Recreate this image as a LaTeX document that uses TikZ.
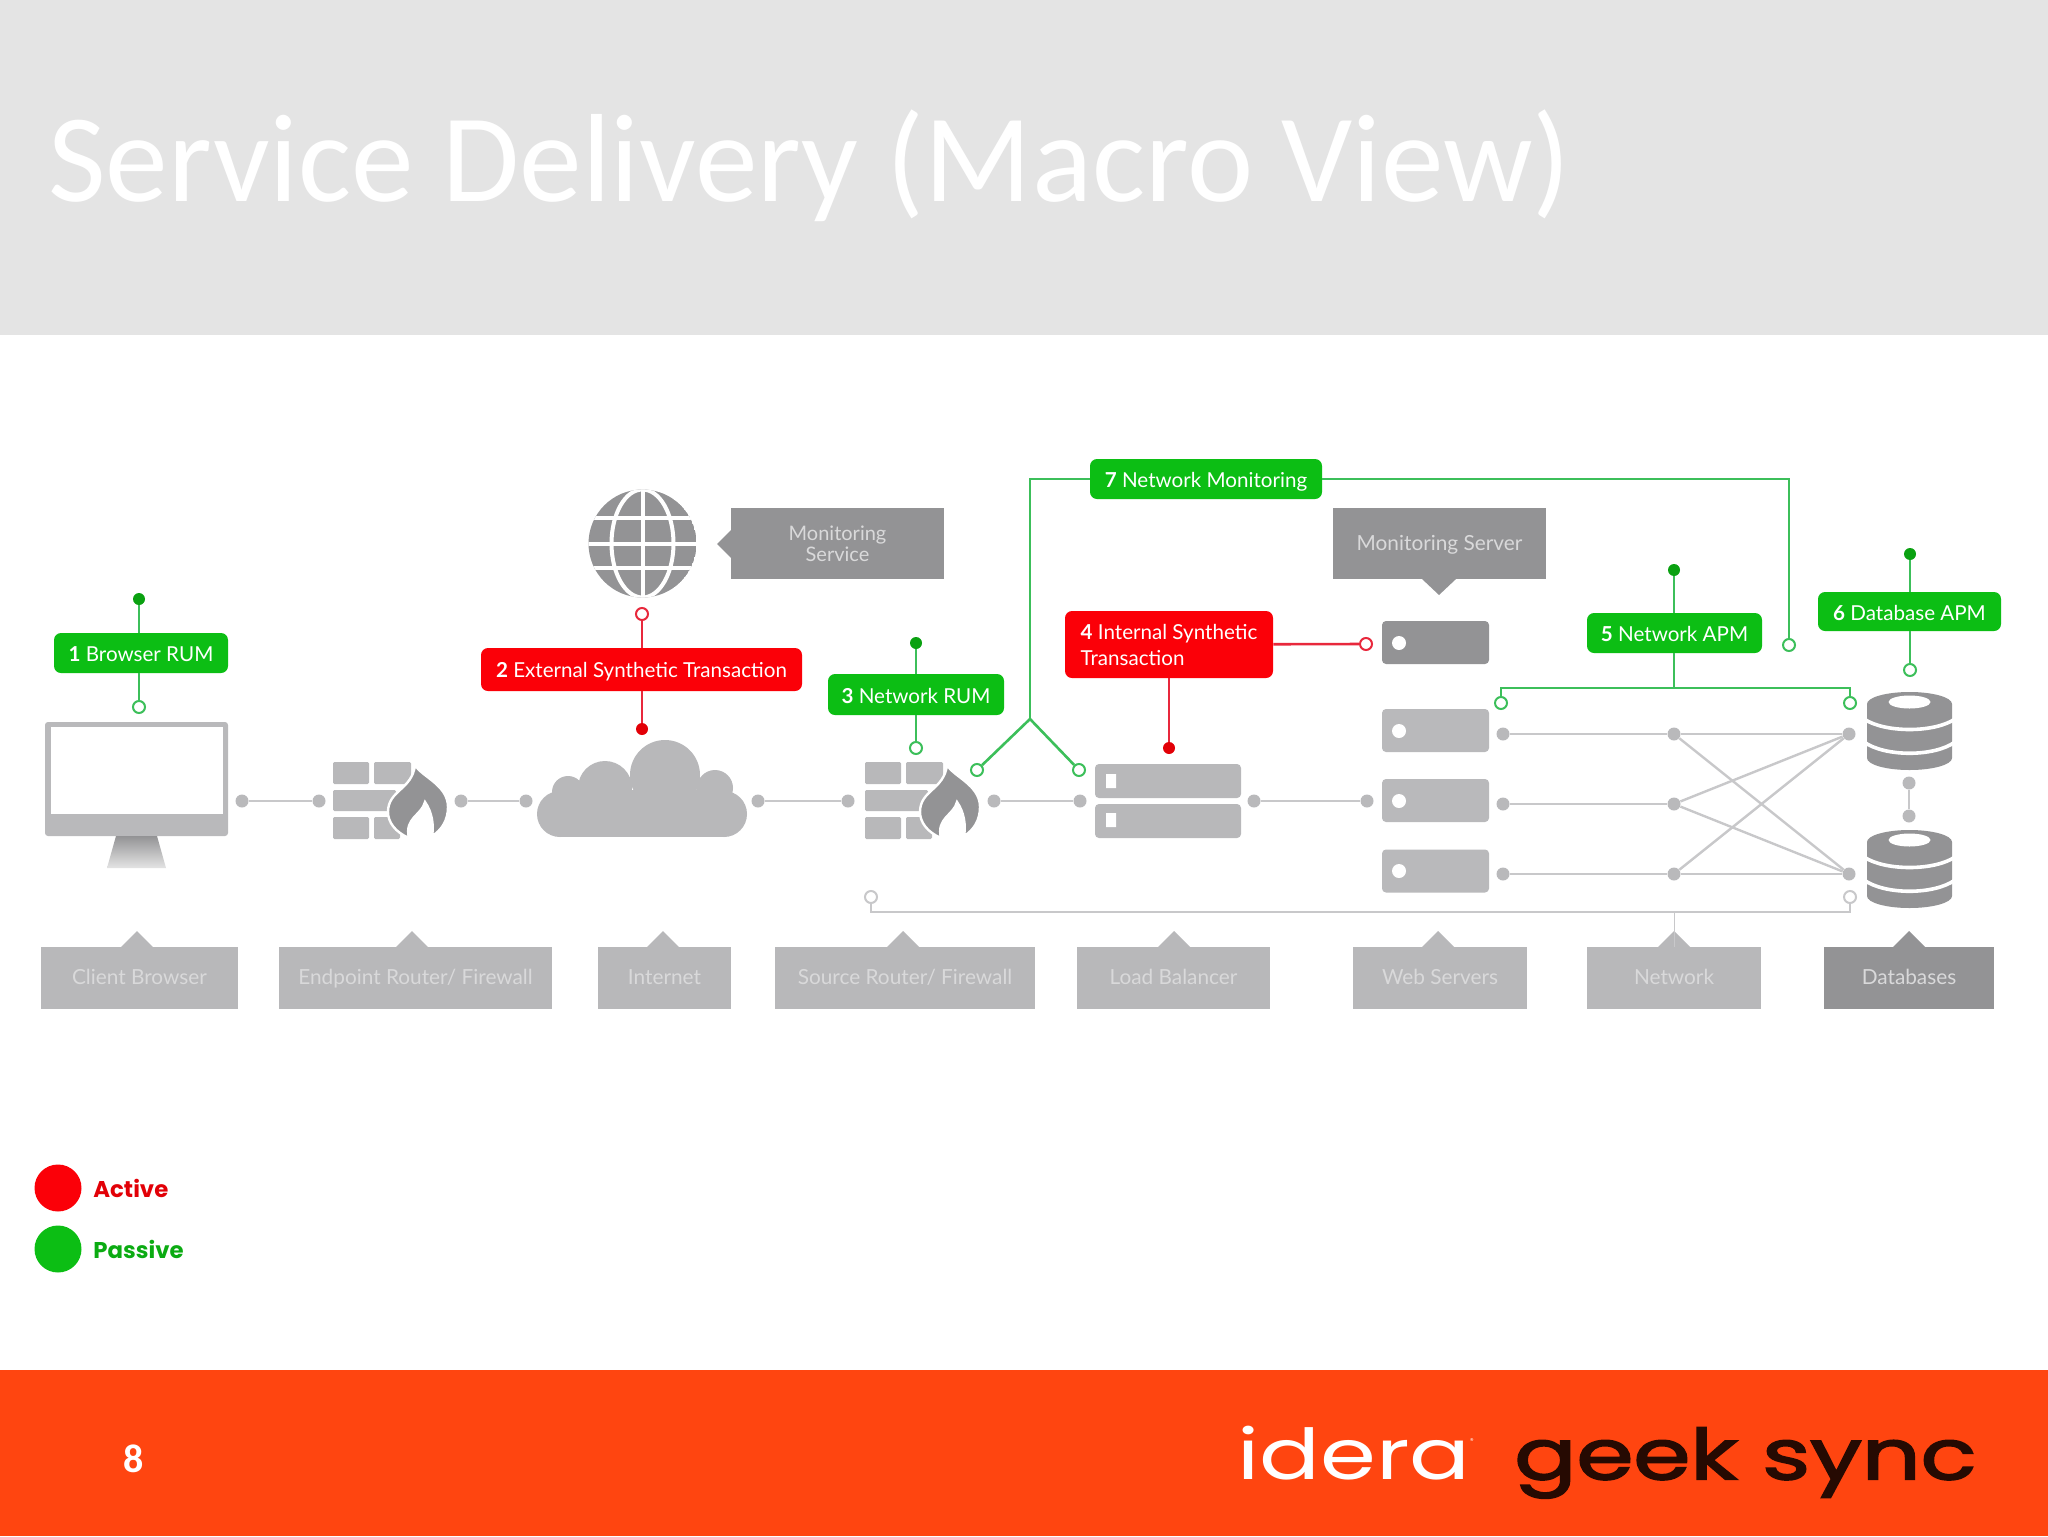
\documentclass[tikz,border=0pt]{standalone}
\usepackage{fontspec}
\usepackage{graphicx}
\setmainfont{Lato}
\newfontfamily\titlefont{Carlito}
\newfontfamily\logofont{Poppins}
\newfontfamily\geekfont[FakeBold=2.2]{Poppins}
\usetikzlibrary{calc}
\definecolor{hdr}{HTML}{E4E4E4}
\definecolor{ftr}{HTML}{FF4510}
\definecolor{gbub}{HTML}{0CBE14}
\definecolor{rbub}{HTML}{FB0008}
\definecolor{gline}{HTML}{3CBF5A}
\definecolor{rline}{HTML}{E8283C}
\definecolor{lgrey}{HTML}{B8B8BA}
\definecolor{dgrey}{HTML}{939395}
\definecolor{ltxt}{HTML}{D9D9DA}
\definecolor{cgrey}{HTML}{B9B9BB}
\definecolor{lnk}{HTML}{C8C8CA}
\tikzset{
  x=0.5pt,y=-0.5pt,
  bubble/.style={rounded corners=3.5pt,inner sep=0pt,text=white,font=\fontsize{10.3}{13}\selectfont,align=center},
  gbubble/.style={bubble,fill=gbub,text height=9.5pt,text depth=1pt},
  rbubble/.style={bubble,fill=rbub},
  fdot/.style={circle,inner sep=0pt,minimum size=6pt},
  gfill/.style={fdot,fill=gbub!85!black},
  rfill/.style={fdot,fill=rbub!90!black},
  gopen/.style={fdot,fill=white,draw=gline,line width=1pt},
  ropen/.style={fdot,fill=white,draw=rline,line width=1pt},
  wopen/.style={fdot,fill=white,draw=lnk,line width=1pt},
  gdot/.style={fdot,minimum size=6.5pt,fill=cgrey},
  gwire/.style={draw=gline,line width=1.3pt},
  rwire/.style={draw=rline,line width=1.3pt},
  lwire/.style={draw=lnk,line width=1.2pt},
  lblbox/.style={fill=lgrey,inner sep=0pt,minimum height=31pt,text=ltxt,text height=8.8pt,text depth=2pt,font=\fontsize{10.4}{12}\selectfont},
  dlblbox/.style={lblbox,fill=dgrey},
  srvbox/.style={fill=cgrey,rounded corners=2pt,inner sep=0pt,minimum width=53.5pt,minimum height=21.5pt},
  lbbox/.style={fill=lgrey,rounded corners=2pt,inner sep=0pt,minimum width=73pt,minimum height=17pt},
}
\newcommand{\firewallicon}[1]{%
  \begin{scope}[xshift=#1]
    \fill[lgrey,rounded corners=0.7pt] (333,762) rectangle (369,784);
    \fill[lgrey,rounded corners=0.7pt] (374,762) rectangle (411,784);
    \fill[lgrey,rounded corners=0.7pt] (333,790) rectangle (396,811);
    \fill[lgrey,rounded corners=0.7pt] (333,817) rectangle (369,839);
    \fill[lgrey,rounded corners=0.7pt] (374,817) rectangle (400,839);
    \filldraw[fill=dgrey,draw=white,line width=1.2pt] (415,765)
      .. controls (422,777) and (448,785) .. (448,807)
      .. controls (448,820) and (442,830) .. (432,836)
      .. controls (434,825) and (432,812) .. (425,802)
      .. controls (422,815) and (404,818) .. (409,838)
      .. controls (395,832) and (388,822) .. (388,812)
      .. controls (388,790) and (412,790) .. (415,765) -- cycle;
  \end{scope}}
\newcommand{\dbicon}[1]{%
  \begin{scope}[yshift=#1]
    \fill[dgrey] (1867,704) -- (1867,758) arc[start angle=180,end angle=360,x radius=42.5,y radius=-12]
      -- (1952,704) arc[start angle=0,end angle=180,x radius=42.5,y radius=-12] -- cycle;
    \fill[white] (1909.5,702) circle[x radius=21,y radius=6.5];
    \draw[white,line width=1.8pt] (1864,719) .. controls (1885,733) and (1934,733) .. (1955,719);
    \draw[white,line width=1.8pt] (1864,742) .. controls (1885,757) and (1934,757) .. (1955,742);
  \end{scope}}
\begin{document}
\begin{tikzpicture}
\useasboundingbox (0,0) rectangle (2048,1536);
\fill[white] (0,0) rectangle (2048,1536);
\fill[hdr] (0,0) rectangle (2048,335);
\fill[ftr] (0,1370) rectangle (2048,1536);
\node[anchor=base west,inner sep=0pt,text=white,font=\titlefont\fontsize{62.7}{70}\selectfont] (title) at (48,201) {Service Delivery (Macro View)};
\node[text=white,inner sep=0pt,font=\titlefont\bfseries\fontsize{20}{24}\selectfont] (pnum) at (134,1459) {8};
% logos
\node[anchor=north west,inner sep=0pt,text=white] (idera) at (1237,1426) {\resizebox*{116.5pt}{27pt}{\logofont idera}};
\node[inner sep=0pt,text=white,font=\logofont\fontsize{3.5}{4}\selectfont] (reg) at (1472,1441) {®};
\node[anchor=north west,inner sep=0pt,text=black!85!ftr] (geek) at (1514,1427) {\resizebox*{231pt}{35.5pt}{\geekfont geek sync}};
% monitor
\fill[cgrey,rounded corners=1.5pt] (45,722) rectangle (228,836);
\fill[white] (51,727) rectangle (223,814);
\shade[top color=dgrey,bottom color=hdr] (116,836) -- (157,836) -- (166,868) -- (107,868) -- cycle;
% firewalls
\firewallicon{0pt}
\firewallicon{266pt}
% cloud
\fill[lgrey] (665,775) circle[radius=35] (605,788) circle[radius=27] (568,792) circle[radius=16] (715,788) circle[radius=18] (560,814) circle[radius=23] (724,814) circle[radius=23];
\fill[lgrey] (560,790) rectangle (724,837);
% globe
\begin{scope}
  \clip (642.5,543.5) circle[radius=54];
  \fill[dgrey] (642.5,543.5) circle[radius=54];
  \draw[white,line width=2pt] (642.5,480) -- (642.5,610) (580,518) -- (705,518) (580,543.5) -- (705,543.5) (580,568) -- (705,568);
  \draw[white,line width=2pt] (642.5,543.5) circle[x radius=31,y radius=54];
\end{scope}
% pointers
\fill[dgrey] (731,530) -- (717,544) -- (731,558) -- cycle;
\fill[dgrey] (1422,579) -- (1439,595) -- (1456,579) -- cycle;
\node[dlblbox,minimum width=106.5pt,minimum height=35.5pt,text height=,text depth=,align=center,font=\fontsize{10}{10.5}\selectfont] (msvc) at (837.5,543.5) {Monitoring\\Service};
\node[dlblbox,minimum width=106.5pt,minimum height=35.5pt] (msrv) at (1439.5,543.5) {Monitoring Server};
% servers
\node[srvbox,fill=dgrey] (s0) at (1435.5,642.5) {};
\node[srvbox] (s1) at (1435.5,730.5) {};
\node[srvbox] (s2) at (1435.5,800.5) {};
\node[srvbox] (s3) at (1435.5,871) {};
\foreach \yy in {643,731,801,871} \fill[white] (1399,\yy) circle[radius=7];
\node[lbbox] (lb1) at (1168,781) {};
\node[lbbox] (lb2) at (1168,821) {};
\fill[white] (1106,774) rectangle (1116,788) (1106,813) rectangle (1116,827);
% databases
\dbicon{0pt}
\dbicon{-69pt}
% grey labels
\foreach \tip in {137,412,663,903,1174,1438,1674} \fill[lgrey] (\tip-17,948) -- (\tip,931) -- (\tip+17,948) -- cycle;
\fill[dgrey] (1892,948) -- (1909,931) -- (1926,948) -- cycle;
\node[lblbox,minimum width=98.5pt] (l1) at (139.5,978) {Client Browser};
\node[lblbox,minimum width=136.5pt] (l2) at (415.5,978) {Endpoint Router/ Firewall};
\node[lblbox,minimum width=66.5pt] (l3) at (664.5,978) {Internet};
\node[lblbox,minimum width=130pt] (l4) at (905,978) {Source Router/ Firewall};
\node[lblbox,minimum width=96.5pt] (l5) at (1173.5,978) {Load Balancer};
\node[lblbox,minimum width=87pt] (l6) at (1440,978) {Web Servers};
\node[lblbox,minimum width=87pt] (l7) at (1674,978) {Network};
\node[dlblbox,minimum width=85pt] (l8) at (1909,978) {Databases};
% chain dots
\node[gdot] (a1) at (242,801) {};
\node[gdot] (a2) at (319,801) {};
\node[gdot] (a3) at (461,801) {};
\node[gdot] (a4) at (526,801) {};
\node[gdot] (a5) at (758,801) {};
\node[gdot] (a6) at (848,801) {};
\node[gdot] (a7) at (994,801) {};
\node[gdot] (a8) at (1080,801) {};
\node[gdot] (a9) at (1254,801) {};
\node[gdot] (a10) at (1367,801) {};
\draw[lwire] (a1) -- (a2);
\draw[lwire] (a3) -- (a4);
\draw[lwire] (a5) -- (a6);
\draw[lwire] (a7) -- (a8);
\draw[lwire] (a9) -- (a10);
% network mesh
\node[gdot] (n1l) at (1503,734) {};
\node[gdot] (n2l) at (1503,804) {};
\node[gdot] (n3l) at (1503,874) {};
\node[gdot] (n1m) at (1674,734) {};
\node[gdot] (n2m) at (1674,804) {};
\node[gdot] (n3m) at (1674,874) {};
\node[gdot] (n1r) at (1849,734) {};
\node[gdot] (n3r) at (1849,874) {};
\draw[lwire] (n1l) -- (n1m) -- (n1r);
\draw[lwire] (n2l) -- (n2m);
\draw[lwire] (n3l) -- (n3m) -- (n3r);
\draw[lwire] (n1m) -- (n3r);
\draw[lwire] (n2m) -- (n1r);
\draw[lwire] (n2m) -- (n3r);
\draw[lwire] (n3m) -- (n1r);
\node[gdot] (dbu) at (1909,783) {};
\node[gdot] (dbd) at (1909,816) {};
\draw[lwire] (dbu) -- (dbd);
% bottom bracket
\node[wopen] (wl) at (871,897) {};
\node[wopen] (wr) at (1850,897) {};
\coordinate (wm) at (1674,912);
\draw[lwire] (wl) |- (wm) -| (wr);
\draw[lwire,line width=0.5pt] (wm) -- (l7.north -| wm);
% bubbles
\node[gbubble,minimum width=87pt,minimum height=20pt] (b1) at (141,653) {\textbf{1} Browser RUM};
\node[rbubble,minimum width=160.5pt,minimum height=21.5pt,text height=8.5pt,text depth=1pt] (b2) at (641.5,669.5) {\textbf{2} External Synthetic Transaction};
\node[gbubble,minimum width=88pt,minimum height=20.5pt] (b3) at (916,694.5) {\textbf{3} Network RUM};
\node[rbubble,minimum width=104pt,minimum height=33.5pt,align=left] (b4) at (1169,644.5) {\textbf{4} Internal Synthetic\\Transaction};
\node[gbubble,minimum width=87.5pt,minimum height=20pt] (b5) at (1674.5,633) {\textbf{5} Network APM};
\node[gbubble,minimum width=91.5pt,minimum height=19.5pt] (b6) at (1909.5,611.5) {\textbf{6} Database APM};
\node[gbubble,minimum width=116pt,minimum height=20pt] (b7) at (1206,479) {\textbf{7} Network Monitoring};
% probes
\node[gfill] (p1t) at (139,599) {};
\node[gopen] (p1b) at (139,707) {};
\draw[gwire] (p1t) -- (p1t |- b1.north);
\draw[gwire] (p1b |- b1.south) -- (p1b);
\node[ropen] (p2t) at (642,614) {};
\node[rfill] (p2b) at (642,729) {};
\draw[rwire] (p2t) -- (p2t |- b2.north);
\draw[rwire] (p2b |- b2.south) -- (p2b);
\node[gfill] (p3t) at (916,643) {};
\node[gopen] (p3b) at (916,748) {};
\draw[gwire] (p3t) -- (b3);
\draw[gwire] (b3) -- (p3b);
\node[ropen] (p4r) at (1366,644) {};
\node[rfill] (p4b) at (1169,748) {};
\draw[rwire] (b4) -- (p4r);
\draw[rwire] (b4) -- (p4b);
\node[gfill] (p5t) at (1674,570) {};
\node[gopen] (p5l) at (1501,703) {};
\node[gopen] (p5r) at (1850,703) {};
\coordinate (j5) at (1674,688);
\draw[gwire] (p5t) -- (p5t |- b5.north);
\draw[gwire] (j5 |- b5.south) -- (j5);
\draw[gwire] (p5l) |- (j5) -| (p5r);
\node[gfill] (p6t) at (1910,554) {};
\node[gopen] (p6b) at (1910,670) {};
\draw[gwire] (p6t) -- (p6t |- b6.north);
\draw[gwire] (p6b |- b6.south) -- (p6b);
\coordinate (apex) at (1030,719);
\node[gopen] (p7l) at (977,770) {};
\node[gopen] (p7r) at (1079,770) {};
\node[gopen] (p7e) at (1789,645) {};
\draw[gwire] (b7.west) -| (apex);
\draw[gwire] (p7l) -- (apex) -- (p7r);
\draw[gwire] (b7.east) -| (p7e);
% legend
\node[circle,fill=rbub,inner sep=0pt,minimum size=23.5pt] (la) at (58,1188) {};
\node[circle,fill=gbub,inner sep=0pt,minimum size=23.5pt] (lp) at (58,1249) {};
\node[anchor=west,inner sep=0pt,text=rbub!90!black,font=\logofont\bfseries\fontsize{11.4}{13}\selectfont] (lat) at (93,1188) {Active};
\node[anchor=west,inner sep=0pt,text=gbub!90!black,font=\logofont\bfseries\fontsize{11.4}{13}\selectfont] (lpt) at (93,1249) {Passive};
\end{tikzpicture}
\end{document}
